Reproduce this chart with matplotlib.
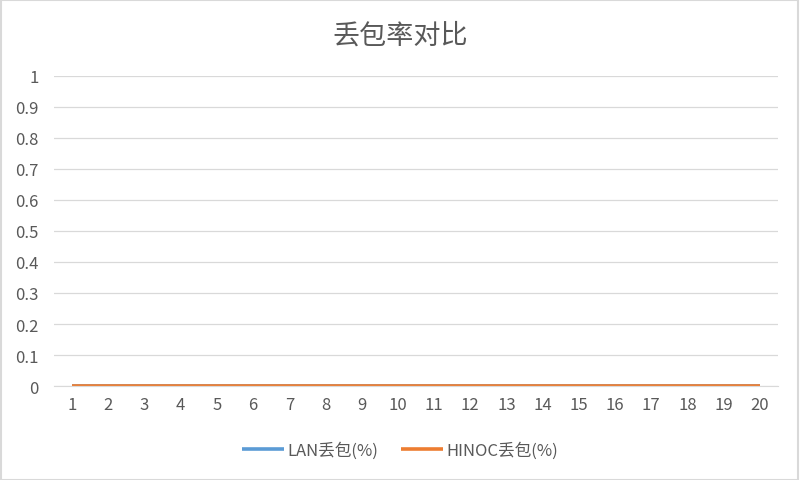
import matplotlib
matplotlib.use("Agg")
import matplotlib.pyplot as plt
from matplotlib.patches import Rectangle

plt.rcParams['font.family'] = ['Noto Sans CJK SC', 'DejaVu Sans']

categories = [str(i) for i in range(1, 21)]
lan_loss = [0] * 20
hinoc_loss = [0] * 20
title = "丢包率对比"
series_names = ["LAN丢包(%)", "HINOC丢包(%)"]
yticks = [0, 0.1, 0.2, 0.3, 0.4, 0.5, 0.6, 0.7, 0.8, 0.9, 1]
ytick_labels = ["0", "0.1", "0.2", "0.3", "0.4", "0.5", "0.6", "0.7", "0.8", "0.9", "1"]

fig = plt.figure(figsize=(8, 4.81), dpi=100)
fig.patches.append(Rectangle((0.001, 0.001), 0.997, 0.997, transform=fig.transFigure,
                             fill=False, edgecolor="#d9d9d9", linewidth=1.5))
ax = fig.add_axes([0.0675, 0.1954, 0.905, 0.6446])
x = list(range(len(categories)))
ax.plot(x, lan_loss, color="#5B9BD5", linewidth=2.6, label=series_names[0], solid_capstyle='butt')
ax.plot(x, hinoc_loss, color="#ED7D31", linewidth=2.6, label=series_names[1], solid_capstyle='butt')
ax.set_xlim(-0.5, len(categories) - 0.5)
ax.set_ylim(0, 1)
ax.set_yticks(yticks)
ax.set_yticklabels(ytick_labels)
ax.set_xticks(x)
ax.set_xticklabels(categories)
ax.grid(axis='y', color="#d9d9d9", linewidth=0.9)
ax.set_axisbelow(True)
for s in ["top", "right", "left"]:
    ax.spines[s].set_visible(False)
ax.spines["bottom"].set_color("#d9d9d9")
ax.tick_params(axis='both', length=0, colors="#595959", labelsize=12)
ax.tick_params(axis='y', pad=11)
ax.tick_params(axis='x', pad=7)
fig.text(0.5, 0.925, title, ha='center', va='center', fontsize=19.5, color="#595959")
leg = fig.legend(loc='center', bbox_to_anchor=(0.5, 0.062), ncol=2, frameon=False,
                 fontsize=12, handlelength=2.5, columnspacing=1.4, handletextpad=0.2)
for t in leg.get_texts():
    t.set_color("#595959")
fig.savefig("out.png", dpi=100)
